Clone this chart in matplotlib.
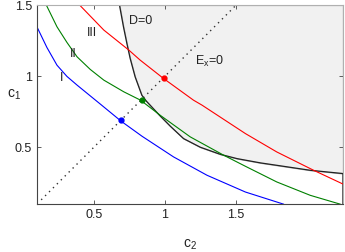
import matplotlib
matplotlib.use('Agg')
import matplotlib.pyplot as plt

plt.rcParams['font.family'] = ['Liberation Sans', 'DejaVu Sans']

# curve I (blue)
c2_I = [0.10, 0.17, 0.241, 0.311, 0.382, 0.546, 0.692, 0.839, 1.06, 1.295, 1.565, 1.832]
c1_I = [1.347, 1.202, 1.077, 0.998, 0.937, 0.803, 0.683, 0.577, 0.432, 0.303, 0.185, 0.10]
# curve II (green)
c2_II = [0.166, 0.241, 0.311, 0.382, 0.475, 0.57, 0.71, 0.828, 0.966, 1.177, 1.412, 1.565, 1.785, 2.02, 2.23]
c1_II = [1.50, 1.347, 1.237, 1.136, 1.047, 0.972, 0.89, 0.831, 0.725, 0.573, 0.444, 0.366, 0.256, 0.162, 0.10]
# curve III (red)
c2_III = [0.40, 0.57, 0.746, 0.825, 0.989, 1.20, 1.26, 1.565, 1.785, 2.044, 2.255]
c1_III = [1.50, 1.324, 1.183, 1.113, 0.984, 0.831, 0.796, 0.596, 0.467, 0.338, 0.239]
# D=0 boundary
c2_D = [0.68, 0.708, 0.732, 0.755, 0.79, 0.837, 0.868, 0.91, 0.961, 1.037, 1.13,
        1.248, 1.389, 1.506, 1.67, 1.785, 2.02, 2.25]
c1_D = [1.50, 1.347, 1.23, 1.125, 0.995, 0.866, 0.825, 0.78, 0.725, 0.648, 0.561,
        0.50, 0.45, 0.42, 0.39, 0.373, 0.338, 0.315]
# Ex=0 line and marked points
c_diag = [0.13, 1.49]
pts_c = [0.69, 0.835, 0.99]
pts_col = ['#0000ff', '#008000', '#ff0000']

fig = plt.figure(figsize=(3.45, 2.52), dpi=100)
ax = fig.add_axes([0.107, 0.19, 0.887, 0.79])

ax.fill_between(c2_D, c1_D, 1.5, facecolor='#f1f1f1', edgecolor='#b0b0b0', lw=0.8, zorder=0)
ax.plot(c2_D + [2.25], c1_D + [0.1], color='#222222', lw=0.9)
ax.plot(c2_I, c1_I, color='#0000ff', lw=0.8)
ax.plot(c2_II, c1_II, color='#008000', lw=0.8)
ax.plot(c2_III, c1_III, color='#ff0000', lw=0.8)
ax.plot(c_diag, c_diag, color='#333333', lw=1, linestyle=(0, (1, 3)))
for c, col in zip(pts_c, pts_col):
    ax.plot([c], [c], 'o', color=col, ms=3.5, zorder=5)

ax.text(0.27, 0.99, 'I', fontsize=9, ha='center', va='center', color='#222222')
ax.text(0.355, 1.155, 'II', fontsize=9, ha='center', va='center', color='#222222')
ax.text(0.49, 1.30, 'III', fontsize=9, ha='center', va='center', color='#222222')
ax.text(0.745, 1.39, 'D=0', fontsize=9, ha='left', va='center', color='#222222')
ax.text(1.21, 1.10, r'E$_\mathregular{x}$=0', fontsize=9, ha='left', va='center', color='#222222')

ax.set_xlim(0.1, 2.25)
ax.set_ylim(0.1, 1.5)
ax.set_xticks([0.5, 1, 1.5])
ax.set_xticklabels(['0.5', '1', '1.5'])
ax.set_yticks([0.5, 1, 1.5])
ax.set_yticklabels(['0.5', '1', '1.5'])
ax.tick_params(direction='in', length=3, width=0.6, labelsize=9, colors='#444444',
               labelcolor='#222222', top=True, right=True)
for s in ['left', 'bottom']:
    ax.spines[s].set_color('#444444')
    ax.spines[s].set_linewidth(0.8)
for s in ['top', 'right']:
    ax.spines[s].set_color('#b0b0b0')
    ax.spines[s].set_linewidth(0.8)

ax.set_xlabel(r'c$_\mathregular{2}$', fontsize=10, color='#222222', labelpad=12)
ax.set_ylabel(r'c$_\mathregular{1}$', fontsize=10, color='#222222', rotation=0, va='center')
ax.yaxis.set_label_coords(-0.075, 0.55)

fig.savefig('out.png', dpi=100)
